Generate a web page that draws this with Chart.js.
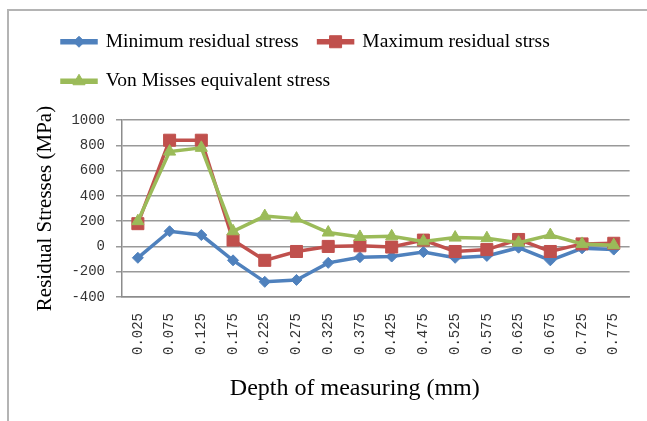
<!DOCTYPE html>
<html>
<head>
  <title>Residual stresses</title>
  <script src="https://cdn.jsdelivr.net/npm/chart.js"></script>
  <style>
    body { margin: 0; background: #fff; }
    .wrap { position: relative; width: 647px; height: 421px; }
    .frame { position: absolute; left: 7px; top: 9px; right: 0; bottom: 0;
             border-top: 2px solid #b4b4b4; border-left: 2px solid #b4b4b4; pointer-events: none; }
  </style>
</head>
<body>
  <div class="wrap">
    <canvas id="stressChart" width="647" height="421"></canvas>
    <div class="frame"></div>
  </div>

  <script>
  // data
  const depths = ['0.025', '0.075', '0.125', '0.175', '0.225', '0.275', '0.325', '0.375',
                  '0.425', '0.475', '0.525', '0.575', '0.625', '0.675', '0.725', '0.775'];
  const minStress = [-90, 120, 90, -110, -280, -265, -130, -85, -80, -45, -90, -75, -10, -110, -15, -25];
  const maxStress = [180, 840, 840, 50, -110, -40, 0, 5, -5, 50, -40, -25, 55, -40, 20, 25];
  const vonMises = [200, 750, 780, 120, 240, 220, 110, 75, 80, 40, 70, 65, 30, 90, 20, 10];
  const yTicks = [-400, -200, 0, 200, 400, 600, 800, 1000];

  const xTitle = 'Depth of measuring (mm)';
  const yTitle = 'Residual Stresses (MPa)';

  function series(label, data, color, style, radius, order) {
    return {
      label: label,
      data: data,
      borderColor: color,
      backgroundColor: color,
      pointBackgroundColor: color,
      pointBorderColor: color,
      borderWidth: 3.5,
      pointStyle: style,
      pointRadius: radius,
      pointBorderWidth: 1,
      tension: 0,
      order: order
    };
  }

  // legend box is a short line, the marker goes on top of it
  const legendMarkers = {
    id: 'legendMarkers',
    beforeInit(chart) {
      const fit = chart.legend.fit;
      chart.legend.fit = function () {
        fit.bind(chart.legend)();
        this.height += 19;
      };
    },
    beforeDraw(chart) {
      const legend = chart.legend;
      const shift = 42 - legend.left;
      legend.left = 42;
      legend.legendHitBoxes.forEach(box => { box.left += shift; });
    },
    afterDraw(chart) {
      const ctx = chart.ctx;
      const legend = chart.legend;
      legend.legendItems.forEach((item, i) => {
        const box = legend.legendHitBoxes[i];
        const ds = chart.data.datasets[item.datasetIndex];
        ctx.save();
        ctx.fillStyle = ds.pointBackgroundColor;
        ctx.strokeStyle = ds.pointBorderColor;
        Chart.helpers.drawPoint(ctx, {
          pointStyle: ds.pointStyle, radius: ds.pointRadius, rotation: 0, borderWidth: 1
        }, box.left + 17, box.top + box.height / 2);
        ctx.restore();
      });

      // x axis title sits a bit left of the plot centre in the original
      const area = chart.chartArea;
      ctx.save();
      ctx.font = '24px "Liberation Serif"';
      ctx.fillStyle = '#000';
      ctx.textAlign = 'center';
      ctx.textBaseline = 'middle';
      ctx.fillText(xTitle, (area.left + area.right) / 2 - 21, area.bottom + 92);
      ctx.restore();
    }
  };

  new Chart(document.getElementById('stressChart'), {
    type: 'line',
    data: {
      labels: depths,
      datasets: [
        series('Minimum residual stress', minStress, '#4f81bd', 'rectRot', 5.5, 3),
        series('Maximum residual strss', maxStress, '#c0504d', 'rect', 8.5, 2),
        series('Von Misses equivalent stress', vonMises, '#9bbb59', 'triangle', 7, 1)
      ]
    },
    options: {
      responsive: false,
      animation: false,
      layout: { padding: { top: 12, left: 8, right: 14, bottom: 0 } },
      plugins: {
        tooltip: { enabled: false },
        legend: {
          position: 'top',
          align: 'start',
          labels: {
            sort: (a, b) => a.datasetIndex - b.datasetIndex,
            boxWidth: 34,
            boxHeight: 2,
            padding: 20,
            color: '#000',
            font: { family: 'Liberation Serif', size: 19.5 }
          }
        }
      },
      scales: {
        x: {
          offset: true,
          grid: { display: false, drawTicks: false },
          border: { display: true, color: '#8c8c8c', width: 1.5 },
          ticks: {
            minRotation: 90,
            maxRotation: 90,
            padding: 16,
            color: '#333',
            font: { family: 'Liberation Mono', size: 14 }
          },
          afterFit(scale) { scale.height = 124; }
        },
        y: {
          min: -400,
          max: 1000,
          afterBuildTicks(scale) { scale.ticks = yTicks.map(v => ({ value: v })); },
          grid: { color: '#999', lineWidth: 1.5, tickLength: 6 },
          border: { color: '#8c8c8c', width: 1.5 },
          ticks: {
            padding: 11,
            color: '#333',
            font: { family: 'Liberation Mono', size: 14 },
            callback: v => String(v)
          },
          title: {
            display: true,
            text: yTitle,
            color: '#000',
            padding: { top: 25, bottom: 0 },
            font: { family: 'Liberation Serif', size: 21 }
          },
          afterFit(scale) { scale.width = 114; }
        }
      }
    },
    plugins: [legendMarkers]
  });
  </script>
</body>
</html>
